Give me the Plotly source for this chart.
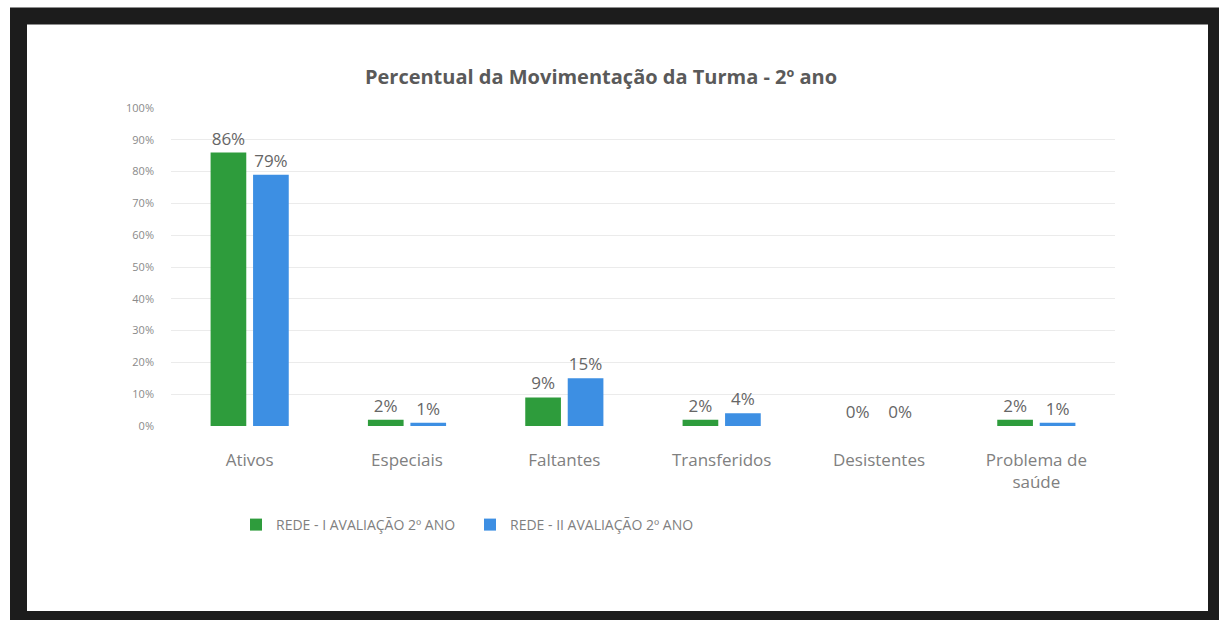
import plotly.graph_objects as go

# Categories and series values (percent of the class)
categories = ["Ativos", "Especiais", "Faltantes", "Transferidos", "Desistentes", "Problema de<br>saúde"]
serie_1_nome = "REDE - I AVALIAÇÃO 2º ANO"
serie_2_nome = "REDE - II AVALIAÇÃO 2º ANO"
serie_1 = [86, 2, 9, 2, 0, 2]
serie_2 = [79, 1, 15, 4, 0, 1]
y_ticks = [0, 10, 20, 30, 40, 50, 60, 70, 80, 90, 100]

W, H = 1219, 620
L, R, T, B = 171, 104, 108, 194
PW, PH = W - L - R, H - T - B


def px_x(p):
    return (p - L) / PW


def px_y(p):
    return (H - B - p) / PH


FONT = "Open Sans"
GRAY = "#808080"

fig = go.Figure()
fig.add_trace(go.Bar(
    x=categories, y=serie_1, name=serie_1_nome,
    marker=dict(color="#2E9C3C", line=dict(width=0)),
    text=[f"{v}%" for v in serie_1], textposition="outside",
    textfont=dict(size=17, color="#666666", family=FONT), cliponaxis=False,
))
fig.add_trace(go.Bar(
    x=categories, y=serie_2, name=serie_2_nome,
    marker=dict(color="#3D8FE3", line=dict(width=0)),
    text=[f"{v}%" for v in serie_2], textposition="outside",
    textfont=dict(size=17, color="#666666", family=FONT), cliponaxis=False,
))

fig.update_layout(
    width=W, height=H,
    margin=dict(l=L, r=R, t=T, b=B, pad=0),
    paper_bgcolor="white", plot_bgcolor="white",
    barmode="group", bargap=0.46, bargroupgap=0.16,
    font=dict(family=FONT, color=GRAY),
    title=dict(
        text="<b>Percentual da Movimentação da Turma - 2º ano</b>",
        x=601 / W, xanchor="center", y=1 - 77 / H, yanchor="middle",
        font=dict(size=20, color="#5a5a5a", family=FONT),
    ),
    showlegend=True,
    legend=dict(
        orientation="h", x=px_x(236), xanchor="left", y=px_y(525), yanchor="middle",
        font=dict(size=14, color=GRAY, family=FONT), itemwidth=30,
        entrywidth=189, entrywidthmode="pixels",
        bgcolor="rgba(0,0,0,0)",
    ),
    xaxis=dict(
        showgrid=False, showline=False, ticks="", zeroline=False,
        tickfont=dict(size=17, color=GRAY, family=FONT), ticklabelstandoff=22,
    ),
    yaxis=dict(
        range=[0, 100], tickvals=y_ticks, ticktext=[f"{t}%" for t in y_ticks],
        showgrid=True, gridcolor="#ebebeb", gridwidth=1, zeroline=False, showline=False,
        tickfont=dict(size=11, color="#8a8a8a", family=FONT), ticks="", ticklabelstandoff=16,
    ),
    shapes=[
        dict(type="rect", xref="paper", yref="paper", layer="above",
             x0=px_x(18.5), x1=px_x(1216.5), y0=px_y(16), y1=px_y(619.5),
             line=dict(color="#1c1c1c", width=17), fillcolor="rgba(0,0,0,0)"),
    ],
)

fig.write_html("out.html")
